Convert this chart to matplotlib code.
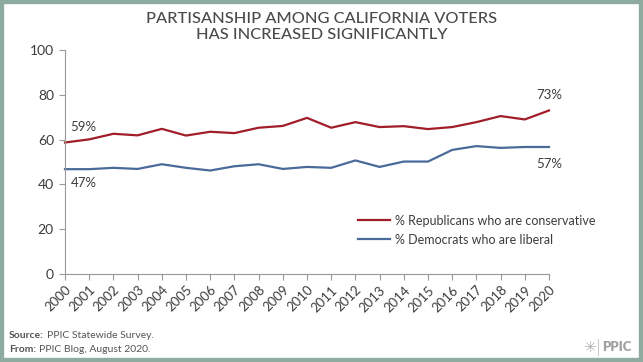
import numpy as np
import matplotlib.pyplot as plt
from matplotlib.patches import Rectangle
from matplotlib.lines import Line2D

plt.rcParams['font.family'] = ['Lato', 'DejaVu Sans']

years = list(range(2000, 2021))
republicans = [58.7, 60.1, 62.6, 61.9, 64.8, 61.8, 63.5, 62.9, 65.3, 66.1, 69.7, 65.3, 67.8,
               65.6, 66.0, 64.7, 65.6, 67.8, 70.5, 69.0, 73.0]
democrats = [46.8, 46.8, 47.4, 46.9, 49.0, 47.4, 46.2, 48.1, 49.0, 46.9, 47.8, 47.4, 50.7,
             47.8, 50.2, 50.2, 55.4, 57.1, 56.3, 56.7, 56.7]
labels = ['% Republicans who are conservative', '% Democrats who are liberal']

red = '#a11d27'
blue = '#4a6a9a'
txt = '#3c3c3c'

fig = plt.figure(figsize=(6.43, 3.62), dpi=100)
ax = fig.add_axes([65/643, 1 - 274/362, 484/643, 224/362])

ax.plot(years, republicans, color=red, lw=1.6, label=labels[0], clip_on=False)
ax.plot(years, democrats, color=blue, lw=1.6, label=labels[1], clip_on=False)

ax.set_xlim(2000, 2020)
ax.set_ylim(0, 100)
ax.set_xticks(years)
ax.set_xticklabels([str(y) for y in years], rotation=45, ha='right',
                   rotation_mode='anchor', fontsize=9.5, color=txt)
ax.set_yticks([0, 20, 40, 60, 80, 100])
ax.tick_params(axis='y', labelsize=10, labelcolor=txt, length=4, color='#999999', pad=4)
ax.tick_params(axis='x', length=4, color='#999999', pad=3)
for s in ['top', 'right']:
    ax.spines[s].set_visible(False)
for s in ['left', 'bottom']:
    ax.spines[s].set_color('#999999')
    ax.spines[s].set_linewidth(0.8)

# end labels
ax.annotate(f'{republicans[0]:.0f}%', (years[0], republicans[0]), xytext=(4, 11),
            textcoords='offset points', ha='left', va='center', fontsize=9.5, color=txt)
ax.annotate(f'{democrats[0]:.0f}%', (years[0], democrats[0]), xytext=(4, -10),
            textcoords='offset points', ha='left', va='center', fontsize=9.5, color=txt)
ax.annotate(f'{republicans[-1]:.0f}%', (years[-1], republicans[-1]), xytext=(0, 11),
            textcoords='offset points', ha='center', va='center', fontsize=9.5, color=txt)
ax.annotate(f'{democrats[-1]:.0f}%', (years[-1], democrats[-1]), xytext=(0, -12),
            textcoords='offset points', ha='center', va='center', fontsize=9.5, color=txt)

leg = ax.legend(loc='center left', bbox_to_anchor=(0.605, 0.196), frameon=False,
                fontsize=9, handlelength=2.6, handletextpad=0.35, borderpad=0,
                borderaxespad=0, labelspacing=0.55)
for t in leg.get_texts():
    t.set_color(txt)

fig.text(0.5, 1 - 27/362, 'PARTISANSHIP AMONG CALIFORNIA VOTERS\nHAS INCREASED SIGNIFICANTLY',
         ha='center', va='center', fontsize=11.8, color='#4a4a4a', linespacing=1.15,
         fontweight='medium')

# footer
src = fig.text(9/643, 1 - 335/362, 'Source:', fontsize=7.5, fontweight='bold',
               color='#555555', va='center')
ax.annotate('PPIC Statewide Survey.', xy=(1, 0.5), xycoords=src, xytext=(2.5, 0),
            textcoords='offset points', va='center', fontsize=7.5, color='#555555',
            annotation_clip=False)
frm = fig.text(9/643, 1 - 349/362, 'From:', fontsize=7.5, fontweight='bold',
               color='#555555', va='center')
ax.annotate('PPIC Blog, August 2020.', xy=(1, 0.5), xycoords=frm, xytext=(2.5, 0),
            textcoords='offset points', va='center', fontsize=7.5, color='#555555',
            annotation_clip=False)

# logo
fig.text(589/643, 1 - 347/362, '\u2733', fontsize=11, color='#b5b5b5', ha='center', va='center',
         family='DejaVu Sans')
fig.add_artist(Line2D([598/643, 598/643], [1 - 339/362, 1 - 355/362], color='#cccccc', lw=0.8))
fig.text(602/643, 1 - 347/362, 'PPIC', fontsize=9.5, fontweight='heavy', color='#a0a0a0', va='center')

fig.patches.append(Rectangle((0, 0), 1, 1, transform=fig.transFigure, fill=False,
                             edgecolor='#8eaba0', lw=6, zorder=10))

fig.savefig('out.png', dpi=100)
